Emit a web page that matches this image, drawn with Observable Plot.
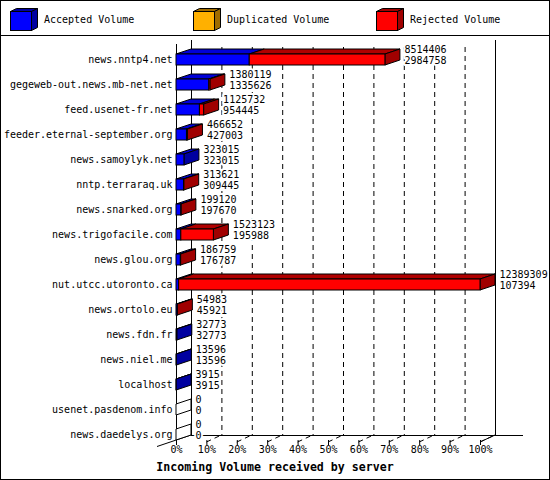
<!DOCTYPE html>
<html><head><meta charset="utf-8">
<script src="https://cdn.jsdelivr.net/npm/d3@7"></script>
<script src="https://cdn.jsdelivr.net/npm/@observablehq/plot@0.6"></script>
<style>
html,body{margin:0;padding:0;background:#fff}
#wrap{position:relative;width:550px;height:480px;border:1px solid #000;box-sizing:border-box;background:#fff;
  font-family:"DejaVu Sans Mono",monospace;font-size:10px;color:#000;overflow:hidden}
#sep{position:absolute;left:0;top:34px;width:548px;height:1px;background:#000}
#chart{position:absolute;left:0;top:35px}
#title{position:absolute;left:0;top:459px;width:548px;text-align:center;line-height:14px;font-weight:bold;font-size:11.6px}
.legitem{position:absolute;top:0;height:34px}
.legtext{position:absolute;top:13px;line-height:12px;white-space:pre}
</style></head><body>
<div id="wrap">
  <div id="legend"></div>
  <div id="sep"></div>
  <div id="chart"></div>
  <div id="title">Incoming Volume received by server</div>
</div>
<script>
// ---- data ----
const hosts = ["news.nntp4.net","gegeweb-out.news.mb-net.net","feed.usenet-fr.net","feeder.eternal-september.org",
  "news.samoylyk.net","nntp.terraraq.uk","news.snarked.org","news.trigofacile.com","news.glou.org",
  "nut.utcc.utoronto.ca","news.ortolo.eu","news.fdn.fr","news.niel.me","localhost","usenet.pasdenom.info","news.daedelys.org"];
const offered  = [8514406,1380119,1125732,466652,323015,313621,199120,1523123,186759,12389309,54983,32773,13596,3915,0,0];
const accepted = [2984758,1335626,954445,427003,323015,309445,197670,195988,176787,107394,45921,32773,13596,3915,0,0];
const duplicated = [0,0,0,0,0,0,0,0,0,0,0,0,0,0,0,0];
const seriesNames = ["Accepted Volume","Duplicated Volume","Rejected Volume"];
const tickPercents = [0,10,20,30,40,50,60,70,80,90,100];
const titleText = "Incoming Volume received by server";

// ---- styles ----
const frontColors = ["#0000ff","#ffb000","#ff0000"];
const topColors   = ["#0000d8","#c08400","#b00000"];
const sideColors  = ["#0000a0","#a06c00","#a00000"];
const DX = 15, DY = 5, BAR_H = 11;

const rejected = offered.map((o,i) => o - accepted[i] - duplicated[i]);
const maxTotal = d3.max(offered);
const rows = hosts.map((h,i) => ({host:h, offered:offered[i], accepted:accepted[i]}));
const long = [];
hosts.forEach((h,i) => {
  [accepted[i], duplicated[i], rejected[i]].forEach((v,k) => long.push({host:h, series:seriesNames[k], value:v}));
});

// ---- legend ----
const legend = d3.select("#legend");
seriesNames.forEach((name,k) => {
  const item = legend.append("div").attr("class","legitem").style("left", (9 + 183*k) + "px");
  const s = item.append("svg").attr("width",30).attr("height",26)
    .style("position","absolute").style("left","0px").style("top","7px");
  const g = s.append("g").attr("transform","translate(0.5,0.5)").attr("stroke","#000").attr("stroke-width",1);
  g.append("path").attr("fill",sideColors[k]).attr("d","M0,3L6,0L27,0L21,3Z");
  g.append("path").attr("fill",sideColors[k]).attr("d","M21,3L27,0L27,19L21,22Z");
  g.append("rect").attr("fill",frontColors[k]).attr("x",0).attr("y",3).attr("width",21).attr("height",19);
  item.append("div").attr("class","legtext").style("left","34px").text(name);
});
d3.select("#title").text(titleText);

// ---- custom 3D marks ----
function faces3d(index, scales) {
  const x = scales.x, y = scales.y, bw = y.bandwidth();
  const g = d3.create("svg:g").attr("stroke","#000").attr("stroke-width",1).attr("stroke-linejoin","miter");
  hosts.forEach((h,i) => {
    const c = y(h) + bw/2;
    const yt = c - BAR_H/2, yb = c + BAR_H/2;
    let cum = 0, last = -1;
    [accepted[i], duplicated[i], rejected[i]].forEach((v,k) => {
      if (v <= 0) return;
      const x0 = x(cum), x1 = x(cum + v);
      g.append("path").attr("fill", topColors[k])
        .attr("d", `M${x0},${yt}L${x1},${yt}L${x1+DX},${yt-DY}L${x0+DX},${yt-DY}Z`);
      cum += v; last = k;
    });
    const xe = x(cum);
    g.append("path").attr("fill", last < 0 ? "#fff" : sideColors[last])
      .attr("d", `M${xe},${yt}L${xe+DX},${yt-DY}L${xe+DX},${yb-DY}L${xe},${yb}Z`);
  });
  return g.node();
}

function floor3d(index, scales, values, dims) {
  const x = scales.x;
  const fy = dims.height - dims.marginBottom; // front floor reference
  const back = fy - 12, front = fy - 5;
  const g = d3.create("svg:g").attr("stroke","#000").attr("fill","none").attr("stroke-width",1);
  const x0 = x(0), x1 = x(maxTotal);
  g.append("path").attr("d", `M${x0+DX},${back+0.5}H${x1+DX+28}`);
  g.append("path").attr("d", `M${x1},${front}L${x1+DX},${back}`);
  g.append("path").attr("d", `M${x0-19},${back+11.5}L${x0+DX},${back}`);
  tickPercents.slice(1).forEach(p => {
    const xv = x(p/100*maxTotal);
    g.append("path").attr("stroke-dasharray","5,4").attr("d", `M${xv},${front}L${xv+DX},${back}`);
  });
  return g.node();
}

const gridVals = tickPercents.slice(1, -1).map(p => p/100*maxTotal);
const halo = {fill: "#000", stroke: "#fff", strokeWidth: 4, paintOrder: "stroke"};

const plot = Plot.plot({
  width: 548,
  height: 425,
  marginLeft: 175,
  marginRight: 69,
  marginTop: 11,
  marginBottom: 14,
  style: {fontFamily: '"DejaVu Sans Mono", monospace', fontSize: "10px", background: "#fff", overflow: "visible"},
  x: {domain: [0, maxTotal], axis: null},
  y: {domain: hosts, padding: 0, axis: null},
  color: {domain: seriesNames, range: frontColors},
  marks: [
    // back wall
    Plot.ruleX(gridVals, {dx: DX, insetBottom: 12, stroke: "#000", strokeDasharray: "5,4"}),
    Plot.ruleX([0, maxTotal], {dx: DX, dy: -7, insetBottom: 5, stroke: "#000"}),
    floor3d,
    // front axis line and ticks
    Plot.ruleX([0], {dy: -3, insetBottom: -1, stroke: "#000"}),
    Plot.ruleX(tickPercents.slice(1).map(p => p/100*maxTotal), {insetTop: 393, insetBottom: 2, stroke: "#000"}),
    // bars
    faces3d,
    Plot.barX(long, {x: "value", y: "host", fill: "series", stroke: "#000", strokeWidth: 1, insetTop: 7, insetBottom: 7}),
    // labels
    Plot.text(rows, {y: "host", text: "host", frameAnchor: "left", textAnchor: "end", dx: -4}),
    Plot.text(rows, {x: "offered", y: "host", text: d => String(d.offered), textAnchor: "start", dx: DX + 4, dy: -10.5, ...halo}),
    Plot.text(rows, {x: "offered", y: "host", text: d => String(d.accepted), textAnchor: "start", dx: DX + 4, dy: 0.5, ...halo}),
    Plot.text(tickPercents, {x: p => p/100*maxTotal, text: p => p + "%", frameAnchor: "bottom", dy: 5})
  ]
});
document.getElementById("chart").appendChild(plot);
</script>
</body></html>
